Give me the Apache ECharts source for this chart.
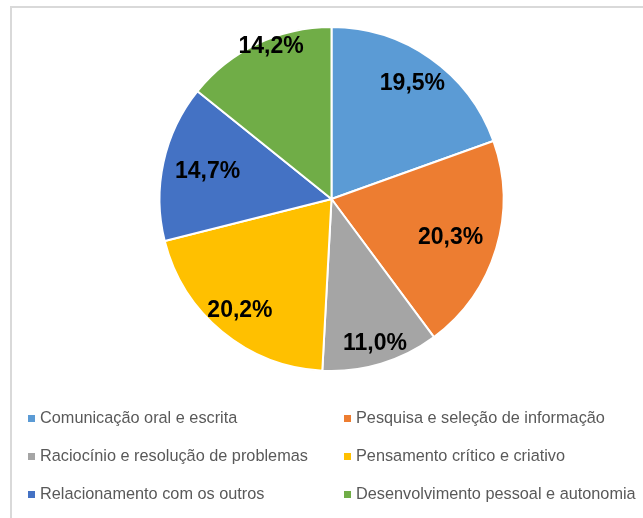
<!DOCTYPE html>
<html>
<head>
<meta charset="utf-8">
<style>
  html, body { margin: 0; padding: 0; background: #fff; }
  #chart { width: 643px; height: 518px; }
</style>
<script src="https://cdn.jsdelivr.net/npm/echarts@6/dist/echarts.min.js"></script>
</head>
<body>
<div id="chart"></div>
<script>
// Skills categories and their shares (%)
const categories = [
  'Comunicação oral e escrita',
  'Pesquisa e seleção de informação',
  'Raciocínio e resolução de problemas',
  'Pensamento crítico e criativo',
  'Relacionamento com os outros',
  'Desenvolvimento pessoal e autonomia'
];
const shares = [19.5, 20.3, 11.0, 20.2, 14.7, 14.2];

const colors = ['#5B9BD5', '#ED7D31', '#A5A5A5', '#FFC000', '#4472C4', '#70AD47'];
// where each percentage label sits: fraction of the radius, and a small angular nudge (degrees)
const labelRadius = [0.80, 0.71, 0.86, 0.82, 0.72, 0.935];
const labelNudge = [0, 1, 0, 0, 0, 4];

const R = 172;
const total = shares.reduce((a, b) => a + b, 0);
const midAngles = [];
let acc = 0;
shares.forEach(v => { midAngles.push((acc + v / 2) / total * 2 * Math.PI); acc += v; });

const chart = echarts.init(document.getElementById('chart'), null, { renderer: 'canvas' });

const legendCommon = {
  orient: 'vertical',
  icon: 'rect',
  itemWidth: 7,
  itemHeight: 7,
  itemGap: 21,
  padding: 0,
  selectedMode: false,
  itemStyle: { borderWidth: 0 },
  textStyle: { fontFamily: 'Liberation Sans', fontSize: 16.3, color: '#595959', lineHeight: 17 }
};

chart.setOption({
  animation: false,
  color: colors,
  graphic: [{
    type: 'rect',
    shape: { x: 11, y: 7, width: 800, height: 700 },
    style: { fill: 'none', stroke: '#d9d9d9', lineWidth: 2 },
    silent: true,
    z: -1
  }],
  legend: [
    Object.assign({ left: 28, top: 410, data: [categories[0], categories[2], categories[4]] }, legendCommon),
    Object.assign({ left: 344, top: 410, data: [categories[1], categories[3], categories[5]] }, legendCommon)
  ],
  series: [{
    type: 'pie',
    center: [331.5, 199],
    radius: [0, R],
    startAngle: 90,
    clockwise: true,
    avoidLabelOverlap: false,
    itemStyle: { borderColor: '#ffffff', borderWidth: 2 },
    label: {
      show: true,
      position: 'inside',
      formatter: p => p.value.toFixed(1).replace('.', ',') + '%',
      fontFamily: 'Liberation Sans',
      fontWeight: 'bold',
      fontSize: 23,
      color: '#000000'
    },
    labelLine: { show: false },
    emphasis: { disabled: true },
    labelLayout: p => {
      const i = p.dataIndex;
      const a0 = midAngles[i];
      const a = a0 + labelNudge[i] * Math.PI / 180;
      const f = labelRadius[i];
      // move from the default mid-radius spot to the chosen spot
      return {
        dx: f * R * Math.sin(a) - 0.5 * R * Math.sin(a0),
        dy: -f * R * Math.cos(a) + 0.5 * R * Math.cos(a0)
      };
    },
    data: categories.map((name, i) => ({ name, value: shares[i] }))
  }]
});
</script>
</body>
</html>
